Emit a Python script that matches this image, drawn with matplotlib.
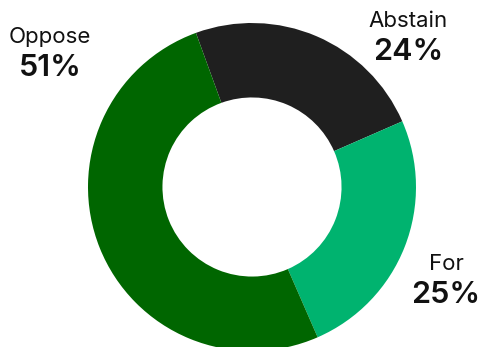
import matplotlib.pyplot as plt

# Результаты голосования
labels = ['Abstain', 'For', 'Oppose']
values = [24, 25, 51]
colors = ['#1f1f1f', '#00b36f', '#006600']

# Положение подписей (в пикселях, от верхнего края)
label_pos = [(408, 21), (446, 264), (50, 37)]

W, H = 481, 347
fig = plt.figure(figsize=(W / 100, H / 100), dpi=100)
ax = fig.add_axes([0, 0, 1, 1])

cx, cy, r = 252, H - 187, 164
ax.pie(values, colors=colors, startangle=110, counterclock=False,
       center=(cx, cy), radius=r,
       wedgeprops=dict(width=r * 0.454, linewidth=0))

for lab, val, (x, y) in zip(labels, values, label_pos):
    ax.text(x, H - y, lab, ha='center', va='center', fontsize=16,
            family='Inter', color='#111111')
    ax.text(x, H - y - 31, f'{val}%', ha='center', va='center', fontsize=22,
            family='Inter', fontweight='semibold', color='#111111')

ax.set_xlim(0, W)
ax.set_ylim(0, H)
ax.set_aspect('equal')
ax.axis('off')

fig.savefig('out.png', dpi=100)
